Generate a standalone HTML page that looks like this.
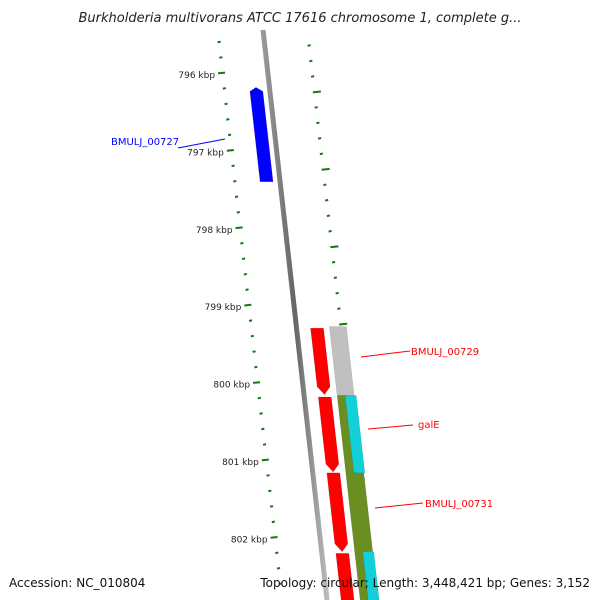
<!DOCTYPE html>
<html><head><meta charset="utf-8"><style>
body{margin:0;background:#fff;}
svg{display:block;font-family:"DejaVu Sans","Liberation Sans",sans-serif;}
</style></head><body>
<svg id="map" width="600" height="600" viewBox="0 0 600 600" xmlns="http://www.w3.org/2000/svg">
<defs>
<linearGradient id="gb" x1="0" x2="1"><stop offset="0" stop-color="#999"/><stop offset="0.5" stop-color="#666"/><stop offset="1" stop-color="#bbb"/></linearGradient>
</defs>
<text x="300" y="22" text-anchor="middle" font-size="13" font-style="italic" fill="#222">Burkholderia multivorans ATCC 17616 chromosome 1, complete g...</text>
<g id="ticks"></g>
<g id="backbone"></g>
<g id="genes"></g>
<g id="labels"></g>
<text x="9" y="587" font-size="12" fill="#111">Accession: NC_010804</text>
<text x="590" y="587" text-anchor="end" font-size="12" fill="#111">Topology: circular; Length: 3,448,421 bp; Genes: 3,152</text>
</svg>
<script>
const kbpLabels = [796, 797, 798, 799, 800, 801, 802];
const geneNames = ["BMULJ_00727", "BMULJ_00729", "galE", "BMULJ_00731"];
const geneStarts = [796.16, 799.27, 800.16, 801.14, 802.18];
const geneEnds = [797.38, 800.13, 801.13, 802.16, 802.9];
const geneStrand = [-1, 1, 1, 1, 1];
const featStarts = [799.25, 800.14, 800.14, 801.14, 802.16, 802.16];
const featEnds = [800.14, 801.14, 801.14, 802.16, 802.9, 802.9];
const featKinds = ["gray", "olive", "cyan", "olive", "olive", "cyan"];

const NS="http://www.w3.org/2000/svg";
const K0=796, Y0=75, PX=77.4;
function yOf(k){return Y0+(k-K0)*PX;}
function kOf(y){return K0+(y-Y0)/PX;}
function bx(y){return 263+(y-30)*0.1125;}
function mk(tag,attrs,parent){const e=document.createElementNS(NS,tag);for(const a in attrs)e.setAttribute(a,attrs[a]);parent.appendChild(e);return e;}
const g=id=>document.getElementById(id);

// backbone
const bb=mk('line',{x1:bx(30),y1:30,x2:bx(600),y2:600,stroke:'url(#gb)','stroke-width':5},g('backbone'));



// ticks
const kmin=kOf(35), kmax=kOf(600);
for(let k=Math.ceil(kmin*5)/5;k<=kmax;k+=0.2){
  const y=yOf(k); const major=Math.abs(k-Math.round(k))<0.01;
  const xl=216+(y-30)*0.113-(major?3:0);
  const t=mk('line',{x1:xl,y1:y-2+0.3,x2:xl+(major?7:3),y2:y-2-0.4,stroke:'#127a12','stroke-width':2},g('ticks'));
  
  
}
for(let k=Math.ceil((kmin-0.22)*5)/5+0.22;k<=kmax;k+=0.2){
  const y=yOf(k); if(y<38)continue;
  const major=Math.abs((k-0.22)-Math.round(k-0.22))<0.01;
  const xr=307+(y-40)*0.113;
  const t=mk('line',{x1:xr,y1:y+0.3,x2:xr+(major?8:3),y2:y-0.5,stroke:'#127a12','stroke-width':2},g('ticks'));
  
  
}
kbpLabels.forEach(k=>{
  const y=yOf(k);
  const t=mk('text',{x:216+(y-30)*0.113-6,y:y+3,'text-anchor':'end','font-size':9,fill:'#222'},g('ticks'));
  t.textContent=k+' kbp';
  
  
});

// genes
const colors={gray:'#c0c0c0',olive:'#6b8e23',cyan:'#11d0d8'};
function box(k1,k2,o1,o2,fill,strand,name){
  const y1=yOf(k1), y2=yOf(k2), d=0.1125;
  let pts;
  if(strand>0){
    pts=[[bx(y1)+o1,y1],[bx(y1)+o2,y1],[bx(y2-8)+o2,y2-8],[bx(y2)+(o1+o2)/2,y2],[bx(y2-8)+o1,y2-8]];
  }else if(strand<0){
    pts=[[bx(y1+4)+o1,y1+4],[bx(y1)+(o1+o2)/2,y1],[bx(y1+4)+o2,y1+4],[bx(y2)+o2,y2],[bx(y2)+o1,y2]];
  }else{
    pts=[[bx(y1)+o1,y1],[bx(y1)+o2,y1],[bx(y2)+o2,y2],[bx(y2)+o1,y2]];
  }
  const p=mk('polygon',{points:pts.map(p=>p.join(',')).join(' '),fill:fill,stroke:'rgba(0,0,0,0.15)','stroke-width':0.5},g('genes'));
  
  
}
geneStarts.forEach((s,i)=>{
  if(geneStrand[i]<0) box(s,geneEnds[i],-20,-7,'#0000ff',-1,'gene-blue');
  else box(s,geneEnds[i],14,27,'#ff0000',1,'gene-red');
});
featStarts.forEach((s,i)=>{
  const kind=featKinds[i];
  let o1=33,o2=50;
  if(kind==='olive' && featKinds[i+1]==='cyan'){o1=33;o2=44;}
  if(kind==='cyan'){o1=41;o2=52;}
  if(kind==='olive' && featKinds[i+1]!=='cyan'){o1=33;o2=51;}
  box(s,featEnds[i],o1,o2,colors[kind],0,'feature-'+kind);
});

// gene labels
const lab=[[111,145,178,148,225,139,'#0000ff','start'],[411,355,361,357,410,351,'#ff0000','start'],[418,428,368,429,413,425,'#ff0000','start'],[425,507,375,508,423,503,'#ff0000','start']];
geneNames.forEach((n,i)=>{
  const L=lab[i];
  const ln=mk('line',{x1:L[2],y1:L[3],x2:L[4],y2:L[5],stroke:L[6],'stroke-width':1},g('labels'));
  
  
  const t=mk('text',{x:L[0],y:L[1],'font-size':10,fill:L[6]},g('labels'));
  t.textContent=n;
  
  
});
</script>
</body></html>
